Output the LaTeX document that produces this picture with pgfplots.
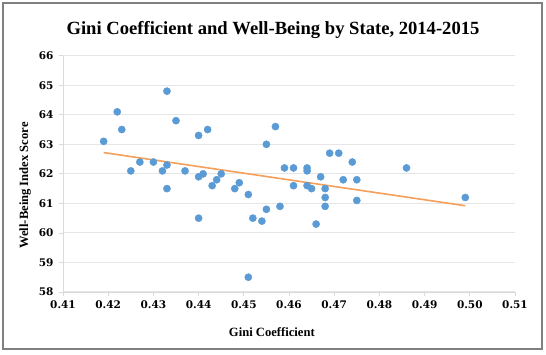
\documentclass[border=0pt]{standalone}
\usepackage{pgfplots}
\pgfplotsset{compat=1.18}
\usepackage{fontspec}
\setmainfont{Liberation Serif}
\newfontfamily\tickfont{DejaVu Serif}
\definecolor{ptblue}{HTML}{5B9BD5}
\definecolor{trend}{HTML}{F5A05A}
\definecolor{gridc}{HTML}{E6E6E6}
\definecolor{axc}{HTML}{D9D9D9}
\definecolor{framec}{HTML}{808080}
\newcommand{\tl}[1]{{\tickfont\bfseries #1}}
\begin{document}
\begin{tikzpicture}
\path[use as bounding box] (-63pt,-63pt) rectangle (483pt,292pt);
\draw[framec, line width=1.3pt] (-60pt,-57pt) rectangle (479pt,289pt);
\begin{axis}[
  scale only axis,
  width=452pt, height=236.3pt,
  xmin=0.41, xmax=0.51, ymin=58, ymax=66,
  xtick={0.41,0.42,0.43,0.44,0.45,0.46,0.47,0.48,0.49,0.50,0.51},
  xticklabels={\tl{0.41},\tl{0.42},\tl{0.43},\tl{0.44},\tl{0.45},\tl{0.46},\tl{0.47},\tl{0.48},\tl{0.49},\tl{0.50},\tl{0.51}},
  ytick={58,59,60,61,62,63,64,65,66},
  yticklabels={\tl{58},\tl{59},\tl{60},\tl{61},\tl{62},\tl{63},\tl{64},\tl{65},\tl{66}},
  axis x line*=bottom, axis y line*=left,
  axis line style={axc, line width=0.8pt},
  every outer x axis line/.append style={-},
  every outer y axis line/.append style={-},
  tick align=outside,
  major tick length=4pt,
  major tick style={draw=axc, line width=0.8pt},
  ymajorgrids, grid style={gridc, line width=1pt},
  xticklabel style={text=black, font=\fontsize{10.5}{12}\selectfont, yshift=-1pt},
  yticklabel style={text=black, font=\fontsize{10.5}{12}\selectfont, xshift=-2pt},
  xtick pos=bottom, ytick pos=left,
  xlabel={Gini Coefficient},
  ylabel={Well-Being Index Score},
  xlabel style={font=\fontsize{12.6}{14}\selectfont\bfseries, at={(axis description cs:0.462,-0.169)}, anchor=center},
  ylabel style={font=\fontsize{12.6}{14}\selectfont\bfseries, at={(axis description cs:-0.084,0.451)}, anchor=center},
  clip=false,
]
\addplot[only marks, mark=*, mark size=3.6pt, mark options={draw=ptblue, fill=ptblue}] coordinates {
(0.419,63.1) (0.422,64.1) (0.423,63.5) (0.425,62.1) (0.427,62.4)
(0.430,62.4) (0.432,62.1) (0.433,62.3) (0.433,61.5) (0.433,64.8)
(0.435,63.8) (0.437,62.1) (0.440,63.3) (0.440,61.9) (0.440,60.5)
(0.441,62.0) (0.442,63.5) (0.443,61.6) (0.444,61.8) (0.445,62.0)
(0.448,61.5) (0.449,61.7) (0.451,61.3) (0.451,58.5) (0.452,60.5)
(0.454,60.4) (0.455,60.8) (0.455,63.0) (0.457,63.6) (0.458,60.9)
(0.459,62.2) (0.461,62.2) (0.461,61.6) (0.464,62.2) (0.464,62.1)
(0.464,61.6) (0.465,61.5) (0.466,60.3) (0.467,61.9) (0.468,61.5)
(0.468,61.2) (0.468,60.9) (0.469,62.7) (0.471,62.7) (0.472,61.8)
(0.474,62.4) (0.475,61.8) (0.475,61.1) (0.486,62.2) (0.499,61.2)
};
\addplot[trend, line width=1.6pt] coordinates {(0.419,62.72) (0.499,60.92)};
\node[font=\fontsize{18.6}{21}\selectfont\bfseries] at (axis description cs:0.4646,1.109) {Gini Coefficient and Well-Being by State, 2014-2015};
\end{axis}
\end{tikzpicture}
\end{document}
